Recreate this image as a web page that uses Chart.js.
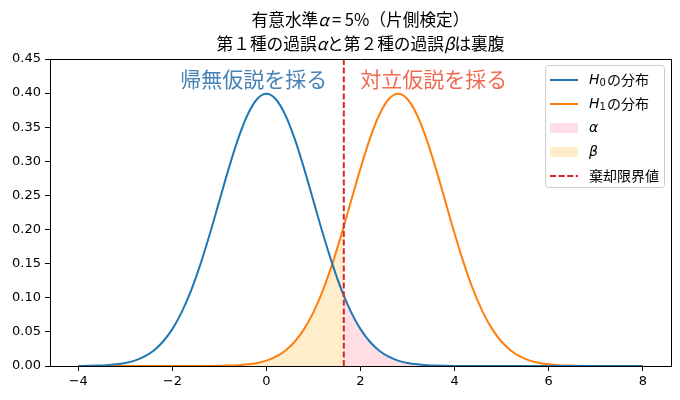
<!DOCTYPE html>
<html>
<head>
<meta charset="utf-8">
<script src="https://cdn.jsdelivr.net/npm/chart.js@4"></script>
<style>
  html, body { margin: 0; padding: 0; background: #fff; }
  #wrap { width: 680px; height: 400px; }
</style>
</head>
<body>
<div id="wrap"><canvas id="distChart" width="680" height="400"></canvas></div>
<script>
// x grid and density values (step 0.2)
const xs = [-4.0, -3.8, -3.6, -3.4, -3.2, -3.0, -2.8, -2.6, -2.4, -2.2,
  -2.0, -1.8, -1.6, -1.4, -1.2, -1.0, -0.8, -0.6, -0.4, -0.2,
  0.0, 0.2, 0.4, 0.6, 0.8, 1.0, 1.2, 1.4, 1.6, 1.8,
  2.0, 2.2, 2.4, 2.6, 2.8, 3.0, 3.2, 3.4, 3.6, 3.8,
  4.0, 4.2, 4.4, 4.6, 4.8, 5.0, 5.2, 5.4, 5.6, 5.8,
  6.0, 6.2, 6.4, 6.6, 6.8, 7.0, 7.2, 7.4, 7.6, 7.8, 8.0];

const h0 = [0.0001, 0.0003, 0.0006, 0.0012, 0.0024, 0.0044, 0.0079, 0.0136, 0.0224, 0.0355,
  0.0540, 0.0790, 0.1109, 0.1497, 0.1942, 0.2420, 0.2897, 0.3332, 0.3683, 0.3910,
  0.3989, 0.3910, 0.3683, 0.3332, 0.2897, 0.2420, 0.1942, 0.1497, 0.1109, 0.0790,
  0.0540, 0.0355, 0.0224, 0.0136, 0.0079, 0.0044, 0.0024, 0.0012, 0.0006, 0.0003,
  0.0001, 0, 0, 0, 0, 0, 0, 0, 0, 0,
  0, 0, 0, 0, 0, 0, 0, 0, 0, 0, 0];

const h1 = [0, 0, 0, 0, 0, 0, 0, 0, 0, 0,
  0, 0, 0, 0, 0.0001, 0.0003, 0.0006, 0.0012, 0.0024, 0.0044,
  0.0079, 0.0136, 0.0224, 0.0355, 0.0540, 0.0790, 0.1109, 0.1497, 0.1942, 0.2420,
  0.2897, 0.3332, 0.3683, 0.3910, 0.3989, 0.3910, 0.3683, 0.3332, 0.2897, 0.2420,
  0.1942, 0.1497, 0.1109, 0.0790, 0.0540, 0.0355, 0.0224, 0.0136, 0.0079, 0.0044,
  0.0024, 0.0012, 0.0006, 0.0003, 0.0001, 0, 0, 0, 0, 0, 0];

// critical value and the curve heights there
const critX = 1.645;
const critH0 = 0.1031;
const critH1 = 0.2046;

const xTicks = [-4, -2, 0, 2, 4, 6, 8];
const yTicks = [0, 0.05, 0.10, 0.15, 0.20, 0.25, 0.30, 0.35, 0.40, 0.45];

const h0Pts = xs.map((x, i) => ({ x: x, y: h0[i] }));
const h1Pts = xs.map((x, i) => ({ x: x, y: h1[i] }));
const alphaPts = [{ x: critX, y: critH0 }].concat(h0Pts.filter(p => p.x > critX));
const betaPts = h1Pts.filter(p => p.x < critX).concat([{ x: critX, y: critH1 }]);

const SANS = '"DejaVu Sans", "Noto Sans CJK JP", sans-serif';
const JP = '"Noto Sans CJK JP", "DejaVu Sans", sans-serif';
const BLUE = '#1f77b4', ORANGE = '#ff7f0e', RED = '#d62728';
const PINK = 'rgba(255,192,203,0.5)', BEIGE = 'rgba(255,165,0,0.2)';
const DASH = [6, 2.6];

// draw a run of [text, italic] pieces starting at x
function drawRuns(ctx, runs, x, y, size) {
  runs.forEach(r => {
    ctx.font = (r[1] ? 'italic ' : '') + size + 'px ' + JP;
    ctx.fillText(r[0], x, y);
    x += ctx.measureText(r[0]).width;
  });
}
function runsWidth(ctx, runs, size) {
  let w = 0;
  runs.forEach(r => {
    ctx.font = (r[1] ? 'italic ' : '') + size + 'px ' + JP;
    w += ctx.measureText(r[0]).width;
  });
  return w;
}

const overlay = {
  id: 'overlay',
  afterDraw(chart) {
    const ctx = chart.ctx;
    const a = chart.chartArea;
    const sx = chart.scales.x, sy = chart.scales.y;
    ctx.save();

    // frame top and right
    ctx.strokeStyle = '#000';
    ctx.lineWidth = 1;
    ctx.beginPath();
    ctx.moveTo(a.left, a.top + 0.5);
    ctx.lineTo(a.right + 0.5, a.top + 0.5);
    ctx.lineTo(a.right + 0.5, a.bottom);
    ctx.stroke();

    // title, two lines
    ctx.fillStyle = '#000';
    ctx.textBaseline = 'middle';
    const cx = (a.left + a.right) / 2;
    const t1 = [['有意水準', false], ['α', true], ['\u2009=\u20095%（片側検定）', false]];
    const t2 = [['第１種の過誤', false], ['α', true], ['と第２種の過誤', false], ['β', true], ['は裏腹', false]];
    drawRuns(ctx, t1, cx - runsWidth(ctx, t1, 16.7) / 2, 20, 16.7);
    drawRuns(ctx, t2, cx - runsWidth(ctx, t2, 16.7) / 2, 44, 16.7);

    // region labels
    ctx.font = '21px ' + JP;
    ctx.fillStyle = '#4682b4';
    ctx.textAlign = 'right';
    ctx.fillText('帰無仮説を採る', sx.getPixelForValue(critX - 0.35), sy.getPixelForValue(0.42));
    ctx.fillStyle = '#f06a52';
    ctx.textAlign = 'left';
    ctx.fillText('対立仮説を採る', sx.getPixelForValue(critX + 0.35), sy.getPixelForValue(0.42));

    // legend box
    const bx = 545, by = 65, bw = 119, bh = 122;
    ctx.fillStyle = 'rgba(255,255,255,0.8)';
    ctx.strokeStyle = '#cccccc';
    ctx.lineWidth = 1;
    ctx.beginPath();
    ctx.roundRect(bx + 0.5, by + 0.5, bw, bh, 3);
    ctx.fill();
    ctx.stroke();

    const hx0 = 550, hx1 = 578, tx = 589;
    const rows = [80, 104, 128, 152, 176];
    ctx.textAlign = 'left';

    // H0 / H1 lines
    [[BLUE, '0'], [ORANGE, '1']].forEach((it, k) => {
      const y = rows[k];
      ctx.strokeStyle = it[0];
      ctx.lineWidth = 2;
      ctx.setLineDash([]);
      ctx.beginPath();
      ctx.moveTo(hx0, y);
      ctx.lineTo(hx1, y);
      ctx.stroke();
      ctx.fillStyle = '#000';
      ctx.font = 'italic 14px ' + SANS;
      ctx.fillText('H', tx, y);
      let x = tx + ctx.measureText('H').width;
      ctx.font = '10px ' + SANS;
      ctx.fillText(it[1], x, y + 3);
      x += ctx.measureText(it[1]).width + 1;
      ctx.font = '14px ' + JP;
      ctx.fillText('の分布', x, y);
    });

    // alpha / beta patches
    [[PINK, 'α'], [BEIGE, 'β']].forEach((it, k) => {
      const y = rows[k + 2];
      ctx.fillStyle = it[0];
      ctx.fillRect(hx0, y - 5, hx1 - hx0, 10);
      ctx.fillStyle = '#000';
      ctx.font = 'italic 14px ' + SANS;
      ctx.fillText(it[1], tx, y);
    });

    // critical value dash
    ctx.strokeStyle = RED;
    ctx.lineWidth = 2;
    ctx.setLineDash(DASH);
    ctx.beginPath();
    ctx.moveTo(hx0, rows[4]);
    ctx.lineTo(hx1, rows[4]);
    ctx.stroke();
    ctx.setLineDash([]);
    ctx.fillStyle = '#000';
    ctx.font = '14px ' + JP;
    ctx.fillText('棄却限界値', tx, rows[4]);

    ctx.restore();
  }
};

const ctx1 = document.getElementById('distChart').getContext('2d');
const distChart = new Chart(ctx1, {
  type: 'line',
  data: {
    datasets: [
      {
        label: 'H0の分布',
        data: h0Pts,
        borderColor: BLUE,
        borderWidth: 2,
        pointRadius: 0,
        fill: false,
        cubicInterpolationMode: 'monotone',
        order: 1
      },
      {
        label: 'H1の分布',
        data: h1Pts,
        borderColor: ORANGE,
        borderWidth: 2,
        pointRadius: 0,
        fill: false,
        cubicInterpolationMode: 'monotone',
        order: 2
      },
      {
        label: 'α',
        data: alphaPts,
        borderWidth: 0,
        borderColor: 'rgba(0,0,0,0)',
        backgroundColor: PINK,
        pointRadius: 0,
        fill: 'origin',
        cubicInterpolationMode: 'monotone',
        order: 4
      },
      {
        label: 'β',
        data: betaPts,
        borderWidth: 0,
        borderColor: 'rgba(0,0,0,0)',
        backgroundColor: BEIGE,
        pointRadius: 0,
        fill: 'origin',
        cubicInterpolationMode: 'monotone',
        order: 4
      },
      {
        label: '棄却限界値',
        data: [{ x: critX, y: 0 }, { x: critX, y: 0.45 }],
        borderColor: RED,
        borderWidth: 2,
        borderDash: DASH,
        pointRadius: 0,
        fill: false,
        order: 0
      }
    ]
  },
  options: {
    responsive: false,
    animation: false,
    layout: { padding: { top: 59, right: 9, left: 0, bottom: 0 } },
    plugins: {
      legend: { display: false },
      title: { display: false },
      tooltip: { enabled: false }
    },
    scales: {
      x: {
        type: 'linear',
        min: -4.6,
        max: 8.6,
        afterBuildTicks: s => { s.ticks = xTicks.map(v => ({ value: v })); },
        afterFit: s => { s.height = 34; },
        ticks: {
          color: '#000',
          font: { family: SANS, size: 13 },
          padding: 3,
          maxRotation: 0,
          callback: v => (v < 0 ? '\u2212' + Math.abs(v) : String(v))
        },
        grid: { drawOnChartArea: false, tickLength: 5, tickColor: '#000', tickWidth: 1 },
        border: { display: true, color: '#000', width: 1 }
      },
      y: {
        type: 'linear',
        min: 0,
        max: 0.45,
        afterBuildTicks: s => { s.ticks = yTicks.map(v => ({ value: v })); },
        afterFit: s => { s.width = 50; },
        ticks: {
          color: '#000',
          font: { family: SANS, size: 13 },
          padding: 4,
          callback: v => v.toFixed(2)
        },
        grid: { drawOnChartArea: false, tickLength: 5, tickColor: '#000', tickWidth: 1 },
        border: { display: true, color: '#000', width: 1 }
      }
    }
  },
  plugins: [overlay]
});
</script>
</body>
</html>
